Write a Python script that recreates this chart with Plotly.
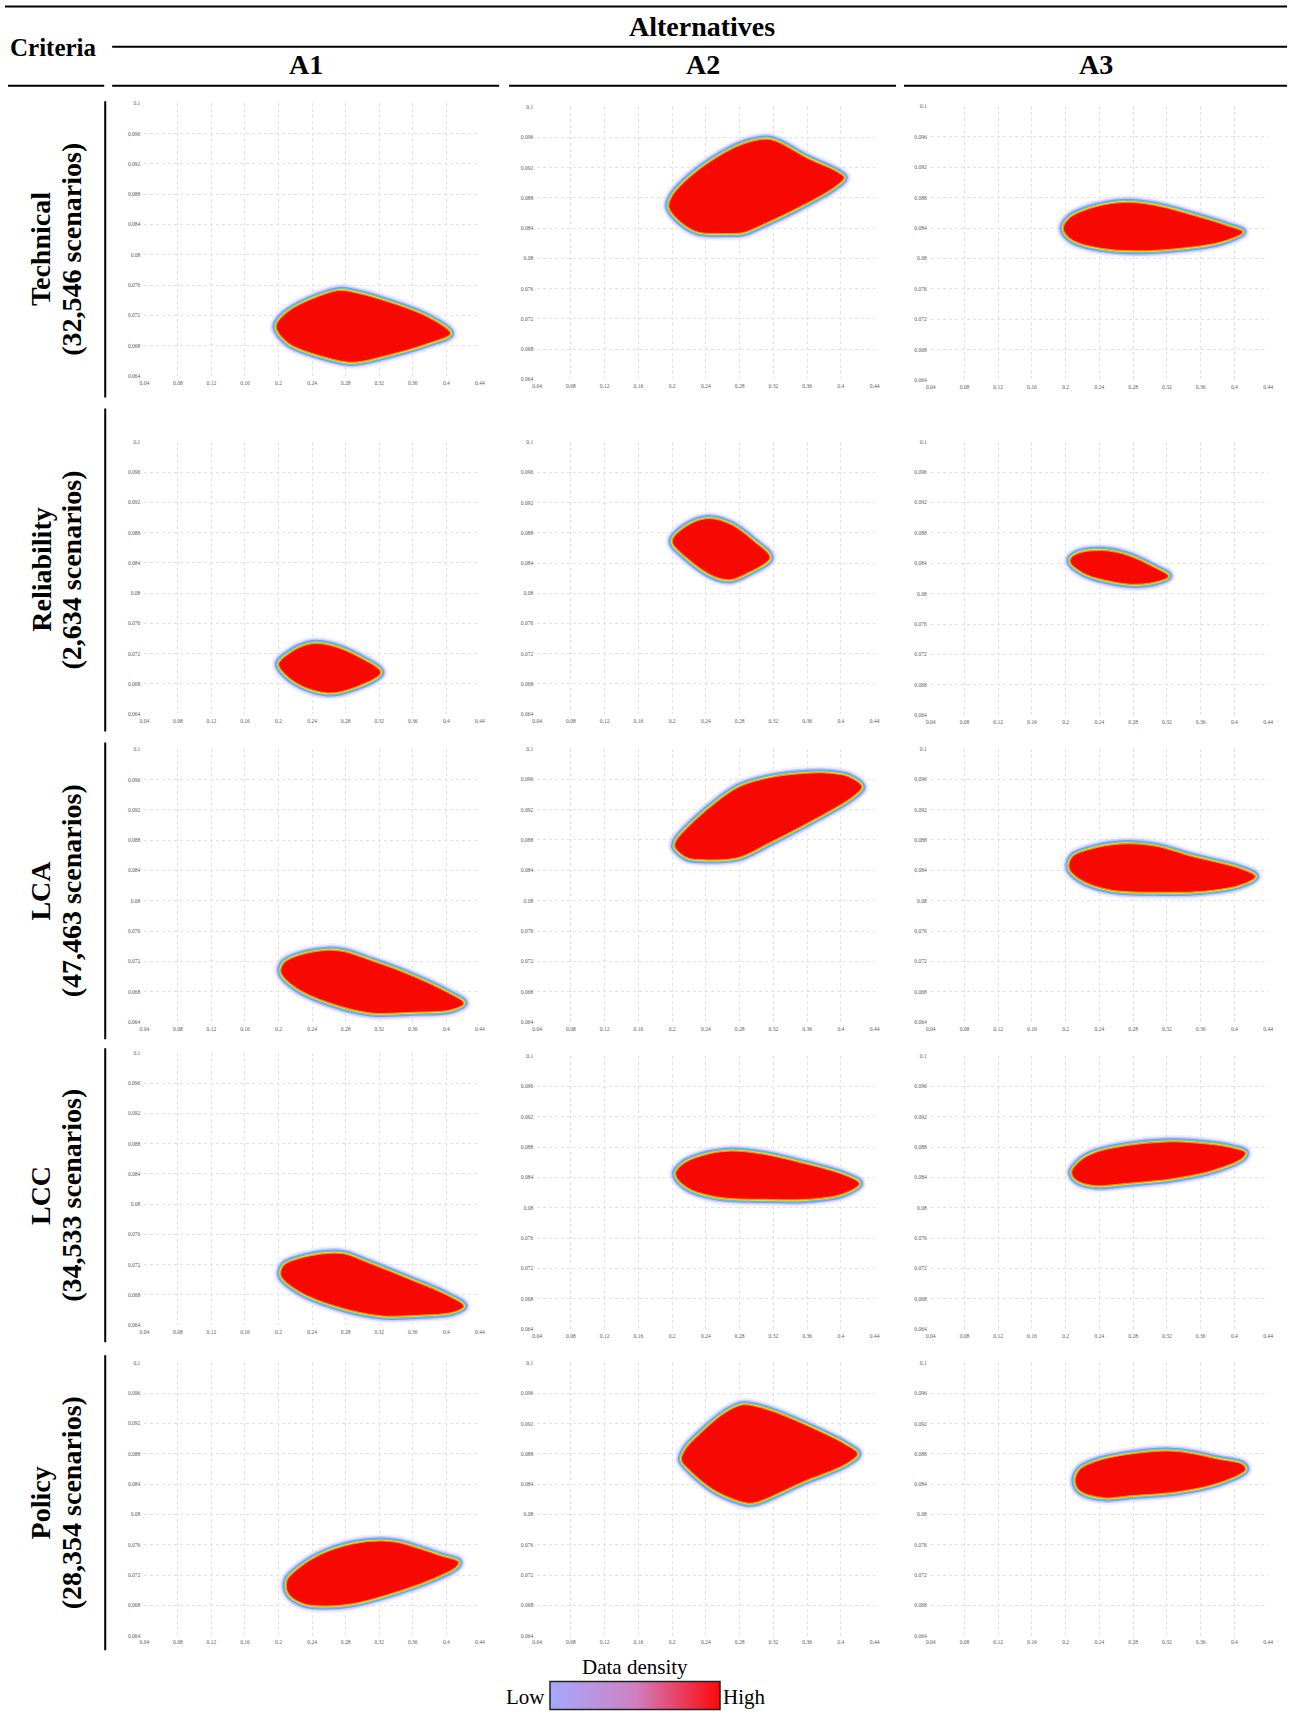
import plotly.graph_objects as go

W, H = 1295, 1717
FONT = "Liberation Serif"

# ---------------- data ----------------
X_TICKS = [0.04, 0.08, 0.12, 0.16, 0.2, 0.24, 0.28, 0.32, 0.36, 0.4, 0.44]
X_TICK_TEXT = ["0.04", "0.08", "0.12", "0.16", "0.2", "0.24", "0.28", "0.32", "0.36", "0.4", "0.44"]
Y_TICKS = [0.064, 0.068, 0.072, 0.076, 0.08, 0.084, 0.088, 0.092, 0.096, 0.1]
Y_TICK_TEXT = ["0.064", "0.068", "0.072", "0.076", "0.08", "0.084", "0.088", "0.092", "0.096", "0.1"]

CRITERIA = ["Technical", "Reliability", "LCA", "LCC", "Policy"]
SCENARIOS = ["32,546", "2,634", "47,463", "34,533", "28,354"]
ALTERNATIVES = ["A1", "A2", "A3"]

# outline of the high-density region of each panel
TECH_A1_X = [0.288, 0.252, 0.212, 0.197, 0.2036, 0.226, 0.272, 0.288, 0.325, 0.378, 0.405, 0.378, 0.332]
TECH_A1_Y = [0.0658, 0.0666, 0.0683, 0.0705, 0.0718, 0.0735, 0.0753, 0.0751, 0.074, 0.0718, 0.0696, 0.0683, 0.0668]
TECH_A2_X = [0.264, 0.23, 0.208, 0.196, 0.199, 0.215, 0.25, 0.285, 0.313, 0.326, 0.36, 0.395, 0.404, 0.392, 0.351, 0.306, 0.284]
TECH_A2_Y = [0.0833, 0.0835, 0.085, 0.0868, 0.0881, 0.0902, 0.0932, 0.0952, 0.0958, 0.0954, 0.0933, 0.0915, 0.0907, 0.0894, 0.0868, 0.0844, 0.0834]
TECH_A3_X = [0.284, 0.244, 0.208, 0.197, 0.204, 0.226, 0.27, 0.306, 0.351, 0.392, 0.41, 0.385, 0.333]
TECH_A3_Y = [0.081, 0.0813, 0.0824, 0.0839, 0.0853, 0.0865, 0.0874, 0.087, 0.0857, 0.0843, 0.0835, 0.0822, 0.0813]

REL_A1_X = [0.258, 0.220, 0.2, 0.212, 0.238, 0.262, 0.297, 0.322, 0.29]
REL_A1_Y = [0.0668, 0.0682, 0.0706, 0.072, 0.0733, 0.0731, 0.0715, 0.0695, 0.0675]
REL_A2_X = [0.27, 0.252, 0.217, 0.2, 0.217, 0.243, 0.27, 0.297, 0.316, 0.29]
REL_A2_Y = [0.0818, 0.0821, 0.0847, 0.0869, 0.0889, 0.0899, 0.0891, 0.0869, 0.0847, 0.0827]
REL_A3_X = [0.27, 0.221, 0.205, 0.212, 0.244, 0.275, 0.306, 0.322, 0.301]
REL_A3_Y = [0.0813, 0.0827, 0.0843, 0.0852, 0.0857, 0.085, 0.0834, 0.0823, 0.0814]

LCA_A1_X = [0.31, 0.261, 0.221, 0.203, 0.206, 0.221, 0.259, 0.279, 0.306, 0.351, 0.4, 0.421, 0.405, 0.36]
LCA_A1_Y = [0.0652, 0.0665, 0.0685, 0.0705, 0.0718, 0.0727, 0.0735, 0.0733, 0.0723, 0.0705, 0.068, 0.0665, 0.0656, 0.0653]
LCA_A2_X = [0.279, 0.235, 0.217, 0.203, 0.205, 0.226, 0.257, 0.279, 0.315, 0.36, 0.387, 0.41, 0.425, 0.413, 0.362, 0.315]
LCA_A2_Y = [0.0857, 0.0854, 0.0857, 0.0871, 0.088, 0.0905, 0.0934, 0.095, 0.0962, 0.0968, 0.0968, 0.0963, 0.095, 0.0936, 0.0903, 0.0876]
LCA_A3_X = [0.316, 0.253, 0.217, 0.204, 0.208, 0.226, 0.266, 0.307, 0.351, 0.403, 0.425, 0.405, 0.36]
LCA_A3_Y = [0.0811, 0.0814, 0.0828, 0.0843, 0.0858, 0.0867, 0.0875, 0.0872, 0.0858, 0.0844, 0.0832, 0.082, 0.0812]

LCC_A1_X = [0.323, 0.270, 0.225, 0.203, 0.206, 0.221, 0.259, 0.279, 0.306, 0.351, 0.4, 0.421, 0.408, 0.368]
LCC_A1_Y = [0.0652, 0.0664, 0.0684, 0.0705, 0.0719, 0.0727, 0.0735, 0.0734, 0.0723, 0.0703, 0.068, 0.0665, 0.0657, 0.0653]
LCC_A2_X = [0.307, 0.253, 0.217, 0.204, 0.213, 0.236, 0.27, 0.307, 0.351, 0.405, 0.422, 0.402, 0.36]
LCC_A2_Y = [0.0811, 0.0814, 0.0827, 0.0845, 0.0858, 0.0869, 0.0875, 0.0871, 0.086, 0.0843, 0.0832, 0.0818, 0.0811]
LCC_A3_X = [0.271, 0.235, 0.213, 0.207, 0.217, 0.235, 0.271, 0.32, 0.351, 0.394, 0.413, 0.41, 0.374, 0.325]
LCC_A3_Y = [0.0832, 0.0829, 0.0836, 0.0847, 0.0862, 0.0873, 0.0882, 0.0887, 0.0886, 0.088, 0.0873, 0.0866, 0.0849, 0.0838]

POL_A1_X = [0.257, 0.23, 0.212, 0.21, 0.225, 0.252, 0.288, 0.322, 0.342, 0.392, 0.415, 0.411, 0.382, 0.333, 0.288]
POL_A1_Y = [0.0679, 0.0682, 0.0695, 0.0713, 0.073, 0.0748, 0.0761, 0.0765, 0.0763, 0.0746, 0.0737, 0.073, 0.0714, 0.0695, 0.0682]
POL_A2_X = [0.289, 0.253, 0.222, 0.211, 0.216, 0.235, 0.262, 0.284, 0.315, 0.355, 0.405, 0.42, 0.405, 0.355, 0.3]
POL_A2_Y = [0.0815, 0.083, 0.0857, 0.0872, 0.0887, 0.0909, 0.0934, 0.0945, 0.0938, 0.092, 0.0893, 0.088, 0.0866, 0.0843, 0.0816]
POL_A3_X = [0.279, 0.244, 0.217, 0.211, 0.217, 0.235, 0.271, 0.32, 0.342, 0.382, 0.41, 0.413, 0.382, 0.333]
POL_A3_Y = [0.0825, 0.0822, 0.0831, 0.0844, 0.086, 0.087, 0.0879, 0.0884, 0.0882, 0.0873, 0.0866, 0.0859, 0.0842, 0.083]

BLOBS = [
    [(TECH_A1_X, TECH_A1_Y), (TECH_A2_X, TECH_A2_Y), (TECH_A3_X, TECH_A3_Y)],
    [(REL_A1_X, REL_A1_Y), (REL_A2_X, REL_A2_Y), (REL_A3_X, REL_A3_Y)],
    [(LCA_A1_X, LCA_A1_Y), (LCA_A2_X, LCA_A2_Y), (LCA_A3_X, LCA_A3_Y)],
    [(LCC_A1_X, LCC_A1_Y), (LCC_A2_X, LCC_A2_Y), (LCC_A3_X, LCC_A3_Y)],
    [(POL_A1_X, POL_A1_Y), (POL_A2_X, POL_A2_Y), (POL_A3_X, POL_A3_Y)],
]

# ---------------- layout geometry (pixels) ----------------
COL_X = [(140.4, 478.6), (536.3, 876.4), (932.9, 1273.0)]
PANEL_Y = [
    [(100.6, 374.4), (104.7, 377.6), (103.8, 378.5)],
    [(440.3, 713.7), (440.7, 713.7), (440.2, 714.8)],
    [(748.9, 1022.7), (748.5, 1022.8), (748.5, 1022.8)],
    [(1053.7, 1326.7), (1056.9, 1330.7), (1056.9, 1330.7)],
    [(1364.6, 1638.4), (1364.9, 1638.4), (1364.9, 1638.4)],
]
ROW_SPAN = [(98.5, 396), (407, 731), (742, 1040), (1049, 1344), (1357, 1653)]


def px(x):
    return x / W


def py(y):
    return 1 - y / H


# edge "glow" layers: (width, colour) from outside to inside
GLOW = [
    (14, "rgba(205,205,255,0.30)"),
    (10, "rgba(165,170,255,0.50)"),
    (7, "rgba(115,135,255,0.85)"),
    (5, "#4fc8f0"),
    (3.6, "#52e070"),
    (2.4, "#f0e840"),
]
RED = "#f70800"

fig = go.Figure()
layout_axes = {}
idx = 0
for r in range(5):
    for c in range(3):
        idx += 1
        xa = "x" if idx == 1 else f"x{idx}"
        ya = "y" if idx == 1 else f"y{idx}"
        xs, ys = BLOBS[r][c]
        xc = list(xs) + [xs[0]]
        yc = list(ys) + [ys[0]]
        for w, col in GLOW:
            fig.add_trace(go.Scatter(
                x=xc, y=yc, mode="lines", xaxis=xa, yaxis=ya,
                line=dict(color=col, width=w, shape="spline", smoothing=1.0),
                hoverinfo="skip", showlegend=False))
        fig.add_trace(go.Scatter(
            x=xc, y=yc, mode="lines", xaxis=xa, yaxis=ya, fill="toself",
            fillcolor=RED,
            line=dict(color="#ff9000", width=1.2, shape="spline", smoothing=1.0),
            hoverinfo="skip", showlegend=False))

        x0, x1 = COL_X[c]
        y0, y1 = PANEL_Y[r][c]
        axis_common = dict(
            showgrid=True, gridcolor="#e2e2e2", griddash="dot", gridwidth=1,
            zeroline=False, showline=False, ticks="",
            tickfont=dict(family=FONT, size=5.5, color="#5a5a5a"),
            fixedrange=True,
        )
        layout_axes["xaxis" if idx == 1 else f"xaxis{idx}"] = dict(
            axis_common, domain=[px(x0), px(x1)], range=[0.04, 0.44],
            tickmode="array", tickvals=X_TICKS, ticktext=X_TICK_TEXT,
            anchor=ya, ticklabelstandoff=2)
        layout_axes["yaxis" if idx == 1 else f"yaxis{idx}"] = dict(
            axis_common, domain=[py(y1), py(y0)], range=[0.064, 0.1],
            tickmode="array", tickvals=Y_TICKS, ticktext=Y_TICK_TEXT,
            anchor=xa, ticklabelstandoff=3)

# colour bar legend
fig.add_trace(go.Scatter(
    x=[None], y=[None], mode="markers", xaxis="x", yaxis="y",
    marker=dict(
        color=[0], cmin=0, cmax=1, showscale=True,
        colorscale=[[0, "#a4a9ff"], [0.5, "#cf80c2"], [1, "#ff0808"]],
        colorbar=dict(
            orientation="h", x=px(634.5), xanchor="center",
            y=py(1714), yanchor="bottom", len=170, lenmode="pixels",
            thickness=28, thicknessmode="pixels", xpad=0, ypad=0,
            outlinewidth=1.5, outlinecolor="#222222",
            showticklabels=False, ticks="")),
    hoverinfo="skip", showlegend=False))

shapes = []
line_style = dict(color="black", width=2)
shapes.append(dict(type="line", xref="paper", yref="paper", x0=0, x1=px(1292), y0=py(3.5), y1=py(3.5), line=line_style))
shapes.append(dict(type="line", xref="paper", yref="paper", x0=px(108), x1=px(1292), y0=py(44), y1=py(44), line=line_style))
for a, b in [(3, 100), (108, 498), (508, 898), (906, 1292)]:
    shapes.append(dict(type="line", xref="paper", yref="paper", x0=px(a), x1=px(b), y0=py(83), y1=py(83), line=line_style))
for a, b in ROW_SPAN:
    shapes.append(dict(type="line", xref="paper", yref="paper", x0=px(101), x1=px(101), y0=py(a), y1=py(b), line=line_style))

annotations = []


def ann(text, x, y, size, angle=0):
    annotations.append(dict(
        text=text, x=px(x), y=py(y), xref="paper", yref="paper",
        xanchor="center", yanchor="middle", showarrow=False, textangle=angle,
        font=dict(family=FONT, size=size, color="black")))


ann("<b>Criteria</b>", 49, 45, 25)
ann("<b>Alternatives</b>", 702, 24, 28)
for c, (name, xc) in enumerate(zip(ALTERNATIVES, [303, 703, 1099])):
    ann(f"<b>{name}</b>", xc, 62, 28)
for r in range(5):
    a, b = ROW_SPAN[r]
    ann(f"<b>{CRITERIA[r]}</b>", 36, (a + b) / 2, 28, -90)
    ann(f"<b>({SCENARIOS[r]} scenarios)</b>", 67, (a + b) / 2, 28, -90)
ann("Data density", 634.5, 1670, 21)
ann("Low", 524.5, 1700, 21)
ann("High", 745, 1700, 21)

fig.update_layout(
    width=W, height=H, autosize=False,
    margin=dict(l=0, r=0, t=0, b=0),
    paper_bgcolor="white", plot_bgcolor="white",
    shapes=shapes, annotations=annotations,
    font=dict(family=FONT),
    **layout_axes,
)

fig.write_html(
    "out.html",
    config={"displayModeBar": False},
    post_script="document.body.style.margin='0px';document.body.style.overflow='hidden';",
)
